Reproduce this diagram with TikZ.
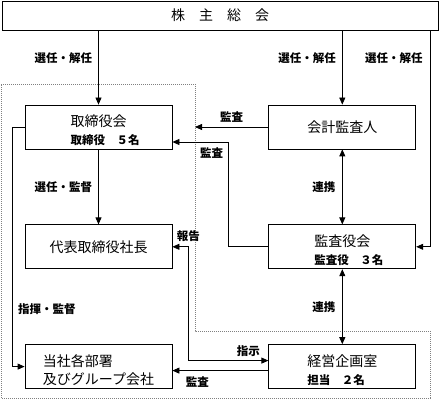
\documentclass[tikz,border=0pt]{standalone}
\usepackage{fontspec}
\setmainfont{Noto Sans CJK JP}
\usepackage{tikz}
\usetikzlibrary{arrows.meta, positioning}

\newcommand{\subline}{\bfseries\fontsize{11.5}{14}\selectfont}
\newcommand{\toppad}{\rule{0pt}{18pt}}

\begin{document}
\begin{tikzpicture}[
    x=1pt, y=-1pt,
    line width=0.8pt,
    node distance=75pt and 96pt,
    box/.style={rectangle, draw, minimum width=147pt, minimum height=44pt, inner sep=0pt, align=left, font=\fontsize{14}{18}\selectfont},
    lbl/.style={inner sep=0pt, font=\bfseries\fontsize{11.5}{13}\selectfont},
    arrow/.style={-{Triangle[length=7pt,width=6pt]}},
    twoway/.style={{Triangle[length=7pt,width=6pt]}-{Triangle[length=7pt,width=6pt]}}
]
\useasboundingbox (0,0) rectangle (439,401);

% Shareholders
\node[draw, minimum width=436pt, minimum height=29pt, inner sep=0pt, font=\fontsize{14}{18}\selectfont] (meeting) at (220,15.5) {株　主　総　会};

% Boxes
\node[box] (board) at (98.5,127) {\toppad 取締役会\\\rlap{\subline 取締役　５名}};
\node[box, right=of board] (auditor) {会計監査人};
\node[box, below=of board] (president) {代表取締役社長};
\node[box, below=of auditor] (kansa) {\toppad 監査役会\\\rlap{\subline 監査役　３名}};
\node[box, below=of president] (depts) {\toppad 当社各部署\\及びグループ会社};
\node[box, below=of kansa] (planning) {\toppad 経営企画室\\{\subline 担当　２名}};

% Dotted boundary
\coordinate (bnd) at (195,84);
\coordinate (rside) at (430,0);
\draw[line width=0.6pt, gray, dash pattern=on 1pt off 1pt] (1,84) -- (bnd) -- (195,331) -- (430,331) -- (430,398) -- (1,398) -- cycle;

% Arrows
\draw[arrow] (meeting.south -| board) -- (board) node[lbl, pos=0.37, left=6pt] {選任・解任};
\draw[arrow] (meeting.south -| auditor) -- (auditor) node[lbl, pos=0.37, left=6pt] {選任・解任};
\draw[arrow] (meeting.south -| rside) |- node[lbl, pos=0.065, left=7pt] {選任・解任} (kansa.east);
\draw[arrow] (auditor.west) -- (auditor.west -| bnd) node[lbl, midway, above=4pt] {監査};
\coordinate (kbend) at ([xshift=-40pt]kansa.west);
\draw[arrow] (kansa.west) -- (kbend) |- node[lbl, pos=0.65, below=5pt] {監査} ([yshift=-15pt]board.east);
\draw[arrow] (board) -- (president) node[lbl, midway, left=6pt] {選任・監督};
\draw[twoway] (auditor) -- (kansa) node[lbl, midway, left=6.5pt] {連携};
\draw[twoway] (kansa) -- (planning) node[lbl, midway, left=6.5pt] {連携};
\draw[twoway] (president.east) -- node[lbl, pos=1, above=5pt] {報告} ++(16,0) |- node[lbl, pos=0.875, above=4pt] {指示} ([yshift=6pt]planning.west);
\draw[arrow] ([yshift=-4pt]planning.west) -- ([yshift=-4pt]planning.west -| depts.east) node[lbl, pos=0.74, below=6pt] {監査};
\draw[arrow] (board.west) -- ++(-12,0) |- node[lbl, pos=0.38, right=5pt] {指揮・監督} (depts.west);

\end{tikzpicture}
\end{document}
